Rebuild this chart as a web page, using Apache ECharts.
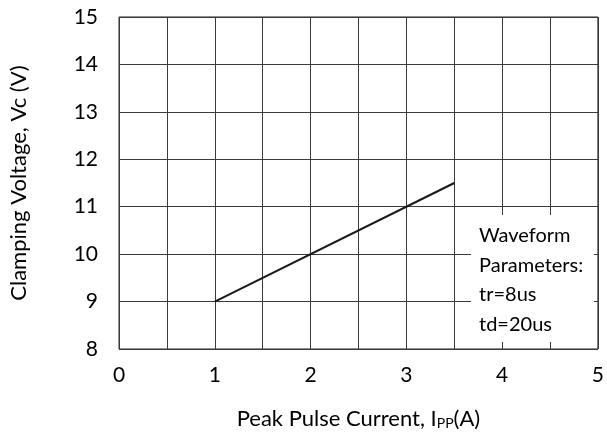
<!DOCTYPE html>
<html>
<head>
<meta charset="utf-8">
<script src="https://cdn.jsdelivr.net/npm/echarts@6/dist/echarts.min.js"></script>
<style>html,body{margin:0;padding:0;background:#fff}#c{width:607px;height:437px}</style>
</head>
<body>
<div id="c"></div>
<script>
var currentA = [1, 3.5];
var clampV = [9, 11.5];
var xTicks = [0, 1, 2, 3, 4, 5];
var yTicks = [8, 9, 10, 11, 12, 13, 14, 15];
var noteLines = ['Waveform', 'Parameters:', 'tr=8us', 'td=20us'];

var FONT = 'Lato';
var chart = echarts.init(document.getElementById('c'));
var gridC = '#3a3a3a';
chart.setOption({
  animation: false,
  textStyle: {fontFamily: FONT},
  grid: {left: 118, right: 6, top: 17, bottom: 88, show: true, borderColor: '#222', borderWidth: 1},
  xAxis: {
    type: 'value', min: 0, max: 5, interval: 0.5,
    axisLine: {show: false}, axisTick: {show: false},
    splitLine: {show: true, lineStyle: {color: gridC, width: 1}},
    axisLabel: {
      color: '#000', fontSize: 21, fontFamily: FONT, margin: 16,
      formatter: function (v) { return xTicks.indexOf(v) >= 0 ? String(v) : ''; }
    },
    name: '{a|Peak Pulse Current, I}{s|PP}{a|(A)}',
    nameLocation: 'middle', nameGap: 59,
    nameTextStyle: {
      rich: {
        a: {fontSize: 22, fontFamily: FONT, color: '#000'},
        s: {fontSize: 14, fontFamily: FONT, color: '#000', verticalAlign: 'bottom', padding: [7, 0, 0, 0]}
      }
    }
  },
  yAxis: {
    type: 'value', min: 8, max: 15, interval: 1,
    axisLine: {show: false}, axisTick: {show: false},
    splitLine: {show: true, lineStyle: {color: gridC, width: 1}},
    axisLabel: {
      color: '#000', fontSize: 21, fontFamily: FONT, margin: 21, padding: [7, 0, 0, 0],
      formatter: function (v) { return yTicks.indexOf(v) >= 0 ? String(v) : ''; }
    },
    name: 'Clamping Voltage, Vc (V)',
    nameLocation: 'middle', nameGap: 89,
    nameTextStyle: {fontSize: 22, fontFamily: FONT, color: '#000'}
  },
  series: [{
    type: 'line',
    data: currentA.map(function (x, i) { return [x, clampV[i]]; }),
    symbol: 'none',
    lineStyle: {color: '#1a1a1a', width: 2}
  }],
  graphic: {
    elements: [{
      type: 'rect', left: 471, top: 215, z: 100,
      shape: {x: 0, y: 0, width: 123, height: 127},
      style: {fill: '#ffffff', stroke: null}
    }, {
      type: 'text', left: 479, top: 221, z: 101,
      style: {text: noteLines.join('\n'), font: '20px ' + FONT, fill: '#000', lineHeight: 29.5}
    }]
  }
});
</script>
</body>
</html>
